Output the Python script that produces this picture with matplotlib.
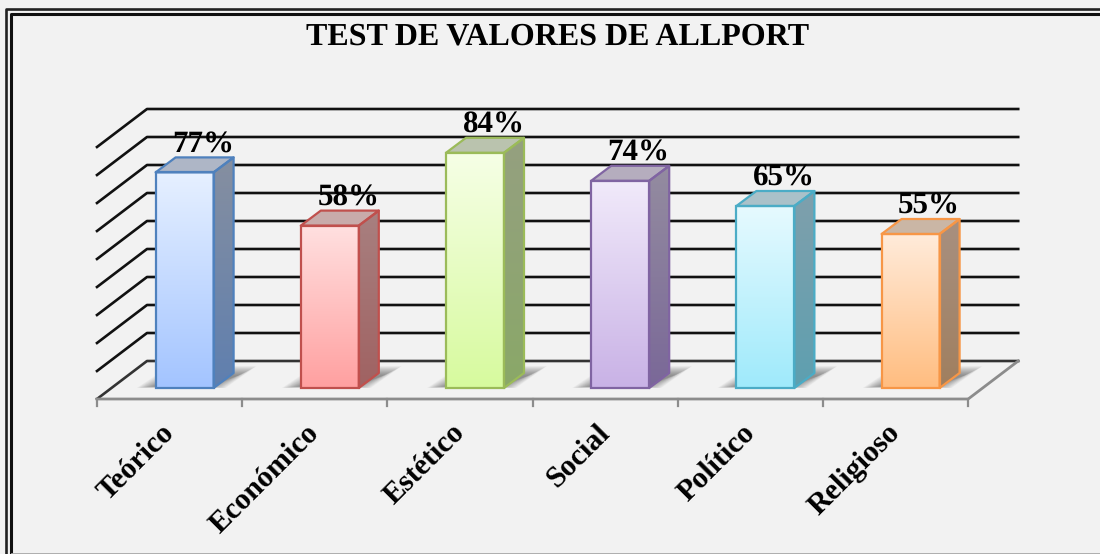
import numpy as np
import matplotlib
matplotlib.use("Agg")
import matplotlib.pyplot as plt
from matplotlib.patches import Polygon, Rectangle
from matplotlib.colors import LinearSegmentedColormap

categories = ["Teórico", "Económico", "Estético", "Social", "Político", "Religioso"]
values = [77, 58, 84, 74, 65, 55]
labels = ["77%", "58%", "84%", "74%", "65%", "55%"]
grid_levels = [0, 10, 20, 30, 40, 50, 60, 70, 80, 90]
edge_colors = ["#4F81BD", "#C0504D", "#9BBB59", "#8064A2", "#4BACC6", "#F79646"]
top_colors = ["#E6F0FF", "#FFE0E0", "#F6FFE6", "#F1EAFA", "#E6FAFF", "#FFEBDA"]
bottom_colors = ["#A3C4FF", "#FFA0A0", "#D7FA9E", "#C9B2E6", "#9FEAFB", "#FFBD80"]
side_top = ["#868FA0", "#A88080", "#95A080", "#948CA0", "#7FA0AC", "#A89080"]
side_bottom = ["#5F7FAF", "#A06262", "#8AA868", "#7A6898", "#5E9FB0", "#A07F5F"]
roof_colors = ["#AEB6C6", "#C8ABAA", "#BAC3AE", "#B5ADBE", "#AAC1C9", "#CAB6A5"]

W, H = 1100, 554
BG = "#F2F2F2"
plt.rcParams["font.family"] = ["Liberation Serif"]
plt.rcParams["text.hinting"] = "no_hinting"
plt.rcParams["text.hinting_factor"] = 1
fig = plt.figure(figsize=(W / 100, H / 100), dpi=100, facecolor=BG)

frame = fig.add_axes([0, 0, 1, 1], zorder=0)
frame.set_xlim(0, W); frame.set_ylim(H, 0); frame.axis("off")
frame.plot([6, 6, 1100], [553, 8.5, 8.5], color="#222222", lw=1.9)
frame.plot([11, 11, 1100], [553, 14, 14], color="#111111", lw=2.2)
frame.plot([12, 1100], [553.5, 553.5], color="#A8A8A8", lw=1.3)

PX_PER_CAT = 145.2
PX_PER_PCT = 2.8
left_px, floor_px = 97.0, 399.0
x0, x1 = -0.5, 5.5
ax = fig.add_axes([left_px / W, 1 - floor_px / H,
                   (x1 - x0) * PX_PER_CAT / W, 100 * PX_PER_PCT / H], zorder=1)
ax.axis("off")

PX, PY = 1 / PX_PER_CAT, 1 / PX_PER_PCT
dx_wall, dy_wall = 50 * PX, 38 * PY
bar_w = 58 * PX
bar_shift = 15 * PX
bar_dx, bar_dy = 20 * PX, 15 * PY
front_y = 11 * PY

for g in grid_levels:
    y = g + dy_wall
    ax.plot([x0, x0 + dx_wall, x1 + dx_wall], [g, y, y],
            color="#111111" if g else "#333333", lw=1.9, clip_on=False, zorder=1)
GREY = "#8C8C8C"
ax.plot([x0, x1, x1 + dx_wall], [0, 0, dy_wall], color=GREY, lw=2.0, clip_on=False, zorder=2)
for i in range(7):
    ax.plot([x0 + i, x0 + i], [0, -7 * PY], color=GREY, lw=1.6, clip_on=False, zorder=2)

for i, v in enumerate(values):
    c = i + bar_shift
    xl, xr = c - bar_w / 2, c + bar_w / 2
    yb, yt = front_y, front_y + v
    for k in range(20):
        ins = k * 0.9
        ax.add_patch(Polygon([(xl + (-19 + ins) * PX, yb + ins * 0.1 * PY),
                              (xr + (12 - ins) * PX, yb + ins * 0.1 * PY),
                              (xr + (43 - ins) * PX, yb + (22 - ins * 0.55) * PY),
                              (xl + (14 + ins) * PX, yb + (22 - ins * 0.55) * PY)],
                             closed=True, fc="#303030", ec="none", alpha=0.033,
                             zorder=3, clip_on=False))
    cmap = LinearSegmentedColormap.from_list("b", [bottom_colors[i], top_colors[i]])
    ax.imshow(np.linspace(0, 1, 128)[:, None], cmap=cmap, origin="lower",
              extent=[xl, xr, yb, yt], aspect="auto", zorder=5, clip_on=False)
    side = Polygon([(xr, yb), (xr + bar_dx, yb + bar_dy), (xr + bar_dx, yt + bar_dy), (xr, yt)],
                   fc="none", ec=edge_colors[i], lw=1.6, zorder=6, clip_on=False, joinstyle="round")
    ax.add_patch(side)
    cmap2 = LinearSegmentedColormap.from_list("s", [side_bottom[i], side_top[i]])
    im = ax.imshow(np.linspace(0, 1, 128)[:, None], cmap=cmap2, origin="lower",
                   extent=[xr, xr + bar_dx, yb, yt + bar_dy], aspect="auto", zorder=5)
    im.set_clip_path(side)
    ax.add_patch(Polygon([(xl, yt), (xr, yt), (xr + bar_dx, yt + bar_dy), (xl + bar_dx, yt + bar_dy)],
                         fc=roof_colors[i], ec=edge_colors[i], lw=1.6, zorder=5, clip_on=False,
                         joinstyle="round"))
    ax.add_patch(Rectangle((xl, yb), bar_w, v, fc="none", ec=edge_colors[i], lw=1.6, zorder=6,
                           clip_on=False))
    ax.text(c + 8.5 * PX + bar_dx / 2, yt + bar_dy - 1.5 * PY, labels[i], ha="center", va="bottom",
            fontsize=22, fontweight="bold", color="black", zorder=7, clip_on=False)
    ax.text(i + 0.03 - 13 * PX, -20.5 * PY, categories[i], rotation=45, ha="right", va="top",
            rotation_mode="anchor", fontsize=21.5, fontweight="bold", color="black", clip_on=False)
ax.set_xlim(x0, x1); ax.set_ylim(0, 100)

fig.text(558 / W, 1 - 36.5 / H, "TEST DE VALORES DE ALLPORT", ha="center", va="center",
         fontsize=23, fontweight="bold", color="black")

fig.savefig("out.png", dpi=100, facecolor=BG)
